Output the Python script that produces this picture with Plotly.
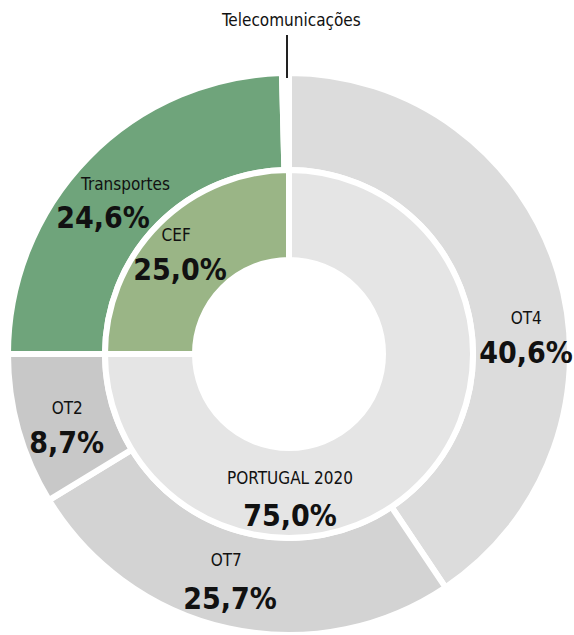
import plotly.graph_objects as go

# ---- data ----
outer_labels = ["OT4", "OT7", "OT2", "Transportes", "Telecomunicações"]
outer_values = [40.6, 25.7, 8.7, 24.6, 0.4]
inner_labels = ["PORTUGAL 2020", "CEF"]
inner_values = [75.0, 25.0]

outer_colors = ["#dcdcdc", "#d3d3d3", "#c8c8c8", "#6fa47b", "#ffffff"]
inner_colors = ["#e5e5e5", "#9ab586"]

W, H = 574, 635
CX, CY = 289, 354
R_OUT, R_IN = 281, 184


def dom(r):
    return dict(x=[(CX - r) / W, (CX + r) / W], y=[max(0, 1 - (CY + r) / H), 1 - (CY - r) / H])


fig = go.Figure()
fig.add_trace(go.Pie(
    labels=outer_labels, values=outer_values, sort=False, direction="clockwise",
    rotation=0, hole=184 / 281, domain=dom(R_OUT), textinfo="none", hoverinfo="label+value",
    marker=dict(colors=outer_colors, line=dict(color="white", width=6)), showlegend=False,
))
fig.add_trace(go.Pie(
    labels=inner_labels, values=inner_values, sort=False, direction="clockwise",
    rotation=0, hole=94 / 184, domain=dom(R_IN), textinfo="none", hoverinfo="label+value",
    marker=dict(colors=inner_colors, line=dict(color="white", width=6)), showlegend=False,
))

NAME_FONT = dict(family="DejaVu Sans", size=17, color="#111111")
PCT_FONT = dict(family="DejaVu Sans", size=30, color="#111111")


def fmt(v):
    return f"{v:.1f}".replace(".", ",") + "%"


# label positions (pixels) : (name_x, name_y, pct_x, pct_y)
label_pos = {
    "Transportes": (125, 184, 103, 218),
    "CEF": (176, 235, 180, 269),
    "OT4": (526, 318, 526, 352),
    "OT2": (67, 408, 66, 442),
    "PORTUGAL 2020": (290, 478, 290, 515),
    "OT7": (226, 560, 230, 598),
}
values_by_label = dict(zip(outer_labels + inner_labels, outer_values + inner_values))

ann = []
for lab, (nx, ny, px, py) in label_pos.items():
    ann.append(dict(x=nx / W, y=1 - ny / H, xref="paper", yref="paper", text=lab,
                    showarrow=False, font=NAME_FONT, xanchor="center", yanchor="middle"))
    ann.append(dict(x=px / W, y=1 - py / H, xref="paper", yref="paper",
                    text="<b>" + fmt(values_by_label[lab]) + "</b>",
                    showarrow=False, font=PCT_FONT, xanchor="center", yanchor="middle"))

ann.append(dict(x=291 / W, y=1 - 20 / H, xref="paper", yref="paper", text="Telecomunicações",
                showarrow=False, font=NAME_FONT, xanchor="center", yanchor="middle"))

fig.update_layout(
    width=W, height=H, margin=dict(l=0, r=0, t=0, b=0),
    paper_bgcolor="white", plot_bgcolor="white",
    annotations=ann,
    shapes=[dict(type="line", xref="paper", yref="paper",
                 x0=287 / W, x1=287 / W, y0=1 - 35 / H, y1=1 - 78 / H,
                 line=dict(color="#222222", width=2))],
)

fig.write_html(
    "out.html",
    config={"displayModeBar": False},
    post_script=(
        "document.body.style.margin='0';document.body.style.overflow='hidden';"
        "document.querySelectorAll('.annotation-text').forEach(function(e){"
        "e.style.fontStretch='condensed';});"
    ),
)
